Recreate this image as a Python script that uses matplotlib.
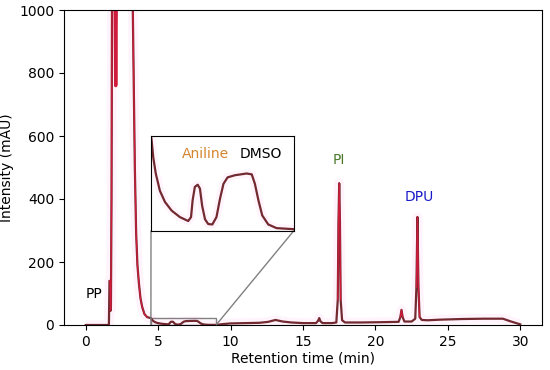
import matplotlib
matplotlib.use("Agg")
import matplotlib.pyplot as plt
import numpy as np
from mpl_toolkits.axes_grid1.inset_locator import mark_inset

# Retention time (min) and intensity (mAU) of the chromatogram
time = [0.0, 1.5, 1.6, 1.64, 1.68, 1.71, 1.74, 1.78, 1.82, 1.9, 2.5, 3.0, 3.15,
        3.25, 3.39, 3.48, 3.57, 3.67, 3.78, 3.9, 4.05, 4.24, 4.4, 4.5,
        4.52, 4.57, 4.65, 4.78, 4.94, 5.15, 5.41, 5.67, 5.76, 5.81, 5.88, 5.97,
        6.04, 6.11, 6.2, 6.3, 6.43, 6.56, 6.67, 6.78, 6.91, 7.14, 7.51, 7.67,
        7.77, 7.88, 8.0, 8.19, 8.45, 9.0,
        9.5, 10.0, 11.0, 12.0, 12.6, 13.1, 13.6, 14.2, 15.0, 15.9, 16.05, 16.12,
        16.2, 16.35, 17.0, 17.3, 17.4, 17.45, 17.5, 17.55, 17.6, 17.7, 17.9,
        19.0, 20.5, 21.6, 21.72, 21.8, 21.88, 22.0, 22.5, 22.75, 22.83, 22.9,
        22.97, 23.05, 23.2, 23.6, 24.5, 26.0, 27.5, 28.8, 29.3, 30.0]
intensity = [0.0, 0.0, 2, 140, 140, 45, 60, 400, 1100, 1200, 1200, 1200, 1150,
             1000, 502, 292, 190, 133, 85, 57, 35, 25, 23, 22,
             20.8, 17.0, 13.2, 9.2, 6.6, 4.6, 3.1, 2.2, 3.1, 7.0, 10.1, 10.6,
             9.7, 5.7, 2.6, 1.5, 1.4, 3.1, 7.3, 10.8, 12.3, 12.8, 13.2, 13.0,
             10.8, 7.0, 3.5, 1.4, 0.55, 0.3,
             3, 5, 6, 7, 10, 16, 11, 8, 6, 6, 14, 22,
             12, 6, 6, 8, 80, 330, 450, 330, 80, 15, 8,
             8, 9, 10, 25, 48, 25, 11, 11, 20, 120, 343,
             120, 25, 16, 15, 17, 19, 20, 20, 12, 2]

# second (crimson) trace: the dip inside the solvent front
dip_time = [1.95, 2.02, 2.07, 2.12, 2.2]
dip_intensity = [1200, 1100, 760, 1100, 1200]

# annotations
peak_labels = ["PP", "PI", "DPU"]
peak_label_x = [0.6, 17.5, 23.0]
peak_label_y = [100, 524, 406]
peak_label_colors = ["black", "#4b7a2b", "#1a1ac8"]

inset_labels = ["Aniline", "DMSO"]
inset_label_x = [6.2, 7.95]
inset_label_y = [17.6, 17.6]
inset_label_colors = ["#d4852f", "black"]

brown = "#722a30"
crimson = "#d01c3c"

t = np.array(time)
y = np.array(intensity, dtype=float)
y_peaks = np.ma.masked_where(y < 25, y)

fig = plt.figure(figsize=(5.5, 3.7), dpi=100)
ax = fig.add_axes([64/550, 45/370, 478/550, 315/370])

ax.plot(t, y, color="#ff66cc", lw=7, alpha=0.07, solid_capstyle="butt")
ax.plot(t, y, color=brown, lw=1.6)
ax.plot(t, y_peaks, color=crimson, lw=0.9)
ax.plot(dip_time, dip_intensity, color=crimson, lw=2.4)

ax.set_xlim(-1.5, 31.5)
ax.set_ylim(0, 1000)
ax.set_xticks([0, 5, 10, 15, 20, 25, 30])
ax.set_yticks([0, 200, 400, 600, 800, 1000])
ax.tick_params(labelsize=10)
ax.set_xlabel("Retention time (min)", fontsize=10, labelpad=2)
ax.set_ylabel("Intensity (mAU)", fontsize=10)

for lab, x, yy, c in zip(peak_labels, peak_label_x, peak_label_y, peak_label_colors):
    ax.text(x, yy, lab, color=c, fontsize=10, ha="center", va="center")

# inset
axins = fig.add_axes([151/550, (370-230.5)/370, 143/550, 95/370])
axins.plot(t, y, color="#ff66cc", lw=6, alpha=0.07)
axins.plot(t, y, color=brown, lw=1.6)
axins.set_xlim(4.5, 9.0)
axins.set_ylim(0, 22)
axins.set_xticks([])
axins.set_yticks([])
for lab, x, yy, c in zip(inset_labels, inset_label_x, inset_label_y, inset_label_colors):
    axins.text(x, yy, lab, color=c, fontsize=10, ha="center", va="center")

mark_inset(ax, axins, loc1=3, loc2=4, fc="none", ec="0.5", lw=1)

fig.savefig("out.png", dpi=100)
